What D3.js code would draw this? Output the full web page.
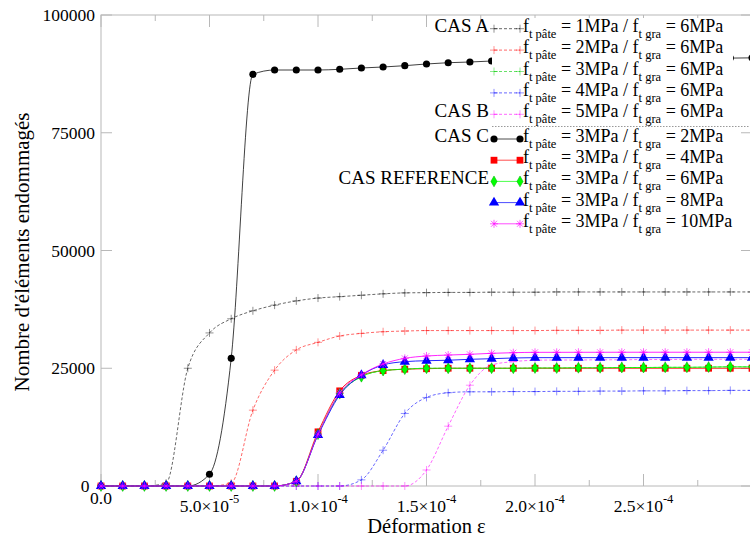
<!DOCTYPE html>
<html><head><meta charset="utf-8">
<script src="https://cdn.jsdelivr.net/npm/d3@7"></script>
<style>
body{margin:0;background:#fff}
svg{display:block}
text{font-family:"Liberation Serif","Times New Roman",serif;fill:#000;white-space:pre}
</style>
</head><body><svg id="c" width="750" height="538"></svg>
<script>
// ---------- data ----------
const strain = [0,0.00001,0.00002,0.00003,0.00004,0.00005,0.00006,0.00007,0.00008,0.00009,
  0.0001,0.00011,0.00012,0.00013,0.00014,0.00015,0.00016,0.00017,0.00018,0.00019,
  0.0002,0.00021,0.00022,0.00023,0.00024,0.00025,0.00026,0.00027,0.00028,0.00029,0.0003];

// CAS A .. CAS B : f_t pâte varies, f_t gra = 6MPa (dashed)
const pate1gra6 = [0,0,0,600,25000,32500,35500,37200,38400,39300,39900,40200,40500,40800,41000,41050,41100,41100,41150,41150,41150,41200,41200,41200,41200,41200,41200,41200,41200,41200,41200];
const pate2gra6 = [0,0,0,0,0,0,600,16100,24600,28900,30500,31850,32400,32750,32900,33000,33000,33000,33000,33000,33000,33050,33050,33050,33100,33100,33100,33100,33100,33100,33100];
const pate4gra6 = [0,0,0,0,0,0,0,0,0,0,0,0,1300,7600,15400,18800,19800,20000,20000,20050,20050,20100,20100,20150,20150,20200,20200,20250,20250,20300,20300];
const pate5gra6 = [0,0,0,0,0,0,0,0,0,0,0,0,0,0,0,3400,12700,21400,25700,26400,26700,26750,26750,26800,26800,26850,26850,26900,26900,26900,26900];
// CAS C .. : f_t pâte = 3MPa, f_t gra varies (solid)
const pate3gra2 = [0,0,0,0,0,2500,27100,87400,88320,88320,88320,88470,88750,88960,89240,89600,89870,90020,90230,90350,90450,90500,90550,90600,90650,90700,90750,90800,90850,90850,90900];
const pate3gra4 = [0,0,0,0,0,0,0,0,0,1000,11500,20200,23500,24500,24800,24900,25000,25000,25000,25000,25000,25000,25000,25000,25000,25000,25000,25000,25000,25000,25000];
const pate3gra6 = [0,0,0,0,0,0,0,0,0,1000,11000,19600,23200,24500,24800,25000,25000,25000,25000,25000,25050,25050,25100,25100,25150,25150,25200,25200,25250,25300,25300];
const pate3gra8 = [0,0,0,0,0,0,0,0,0,1000,10800,19300,23500,25700,26400,26600,26700,26900,27030,27180,27250,27250,27250,27250,27250,27250,27250,27250,27250,27250,27250];
const pate3gra10 = [0,0,0,0,0,0,0,0,0,1000,11000,19800,23600,25900,27100,27600,27800,27960,28170,28300,28380,28380,28390,28390,28400,28400,28400,28400,28400,28400,28400];

const legendPate = ["1MPa","2MPa","3MPa","4MPa","5MPa","3MPa","3MPa","3MPa","3MPa","3MPa"];
const legendGra  = ["6MPa","6MPa","6MPa","6MPa","6MPa","2MPa","4MPa","6MPa","8MPa","10MPa"];
const caseLabels = ["CAS A","","","","CAS B","CAS C","","CAS REFERENCE","",""];

const yTicks = [0,25000,50000,75000,100000];
const yTickLabels = ["0","25000","50000","75000","100000"];
const xMajorTicks = [0,0.00005,0.0001,0.00015,0.0002,0.00025,0.0003];
const xMinorTicks = [0.000025,0.000075,0.000125,0.000175,0.000225,0.000275];
const xTickMant = ["0.0","5.0×10","1.0×10","1.5×10","2.0×10","2.5×10"];
const xTickExp  = ["","-5","-4","-4","-4","-4"];

// ---------- styles ----------
const series = [
  {v:pate1gra6, color:"#000", dash:true, marker:"plus"},
  {v:pate2gra6, color:"#f00", dash:true, marker:"plus"},
  {v:pate3gra6, color:"#0c0", dash:true, marker:"plus"},
  {v:pate4gra6, color:"#00f", dash:true, marker:"plus"},
  {v:pate5gra6, color:"#f0f", dash:true, marker:"plus"},
  {v:pate3gra2, color:"#000", dash:false, marker:"circle"},
  {v:pate3gra4, color:"#f00", dash:false, marker:"square"},
  {v:pate3gra6, color:"#0f0", dash:false, marker:"diamond"},
  {v:pate3gra8, color:"#00f", dash:false, marker:"triangle"},
  {v:pate3gra10, color:"#f0f", dash:false, marker:"star"}
];

const svg = d3.select("#c");
const x = d3.scaleLinear().domain([0,0.0003]).range([101,752]);
const y = d3.scaleLinear().domain([0,100000]).range([486,15]);
const axisColor = "#b8b8b8";

// ---------- axes frame ----------
const ax = svg.append("g").attr("stroke",axisColor).attr("stroke-width",1).attr("fill","none");
ax.append("rect").attr("x",x(0)).attr("y",y(100000)).attr("width",x(0.0003)-x(0)).attr("height",y(0)-y(100000));
xMajorTicks.forEach(t=>{
  ax.append("line").attr("x1",x(t)).attr("x2",x(t)).attr("y1",y(0)).attr("y2",y(0)-12);
  ax.append("line").attr("x1",x(t)).attr("x2",x(t)).attr("y1",y(100000)).attr("y2",y(100000)+12);
});
xMinorTicks.forEach(t=>{
  ax.append("line").attr("x1",x(t)).attr("x2",x(t)).attr("y1",y(0)).attr("y2",y(0)-6);
  ax.append("line").attr("x1",x(t)).attr("x2",x(t)).attr("y1",y(100000)).attr("y2",y(100000)+6);
});
yTicks.forEach(t=>{
  ax.append("line").attr("x1",x(0)).attr("x2",x(0)+11).attr("y1",y(t)).attr("y2",y(t));
  ax.append("line").attr("x1",x(0.0003)).attr("x2",x(0.0003)-11).attr("y1",y(t)).attr("y2",y(t));
});

// ---------- markers ----------
function markerPath(type){
  switch(type){
    case "plus": return "M-4,0H4M0,-4V4";
    case "star": return "M-4,0H4M0,-4V4M-3,-3L3,3M-3,3L3,-3";
    case "circle": return d3.symbol(d3.symbolCircle,40)();
    case "square": return d3.symbol(d3.symbolSquare,46)();
    case "diamond": return d3.symbol(d3.symbolDiamond,34)();
    case "triangle": return d3.symbol(d3.symbolTriangle,46)();
  }
}
function drawMarker(g,type,color,px,py){
  const p = g.append("path").attr("d",markerPath(type)).attr("transform",`translate(${px},${py})`);
  if(type==="plus"||type==="star"){
    p.attr("fill","none").attr("stroke",color).attr("stroke-width",0.8).attr("stroke-opacity",type==="plus"?0.55:0.8);
  } else {
    p.attr("fill",color).attr("stroke",type==="diamond"?"#0a0":"none").attr("stroke-width",0.5);
  }
}

// ---------- curves ----------
const line = d3.line().x((d,i)=>x(strain[i])).y(d=>y(d)).curve(d3.curveMonotoneX);
const plot = svg.append("g");
series.forEach(s=>{
  const g = plot.append("g");
  g.append("path").attr("d",line(s.v)).attr("fill","none")
    .attr("stroke",s.color)
    .attr("stroke-width",s.dash?0.8:1)
    .attr("stroke-opacity",s.dash?0.75:(s.marker==="circle"?0.75:0.85))
    .attr("stroke-dasharray",s.dash?"3,2":null);
  s.v.forEach((d,i)=>drawMarker(g,s.marker,s.color,x(strain[i]),y(d)));
});

// ---------- legend ----------
const lg = svg.append("g");
lg.append("rect").attr("x",492).attr("y",18).attr("width",241).attr("height",108).attr("fill","#fff");
lg.append("line").attr("x1",492).attr("x2",750).attr("y1",126.5).attr("y2",126.5)
  .attr("stroke","#999").attr("stroke-width",1).attr("stroke-dasharray","1.5,1.5");

const baseRows = [31.7,53.1,74.5,95.9,117.3,142,163.2,184.4,205.6,226.8];
series.forEach((s,i)=>{
  const by = baseRows[i];
  const ly = by-3;
  const g = lg.append("g");
  g.append("line").attr("x1",494).attr("x2",520).attr("y1",ly).attr("y2",ly)
    .attr("stroke",s.color).attr("stroke-width",s.dash?0.8:1)
    .attr("stroke-opacity",s.dash?0.75:0.7)
    .attr("stroke-dasharray",s.dash?"3,2":null);
  drawMarker(g,s.marker,s.color,494,ly);
  drawMarker(g,s.marker,s.color,520,ly);
  const t = g.append("text").attr("x",523).attr("y",by).attr("font-size",18);
  t.append("tspan").text("f");
  t.append("tspan").attr("font-size",12.5).attr("dy",6).text("t pâte");
  t.append("tspan").attr("font-size",18).attr("dy",-6).text(" = "+legendPate[i]+" / f");
  t.append("tspan").attr("font-size",12.5).attr("dy",6).text("t gra");
  t.append("tspan").attr("font-size",18).attr("dy",-6).text(" = "+legendGra[i]);
  if(caseLabels[i]) g.append("text").attr("x",489).attr("y",by).attr("text-anchor","end").attr("font-size",19).text(caseLabels[i]);
});

// ---------- tick labels ----------
yTicks.forEach((t,i)=>{
  svg.append("text").attr("x",t===0?89.5:95).attr("y",y(t)+6).attr("text-anchor","end").attr("font-size",17.5).text(yTickLabels[i]);
});
xTickMant.forEach((m,i)=>{
  const t = svg.append("text").attr("x",x(xMajorTicks[i])).attr("text-anchor","middle").attr("font-size",17.5);
  if(xTickExp[i]){
    t.attr("y",512);
    t.append("tspan").text(m);
    t.append("tspan").attr("font-size",12.5).attr("dy",-9).text(xTickExp[i]);
  } else {
    t.attr("y",504).text(m);
  }
});

// ---------- titles ----------
svg.append("text").attr("x",(x(0)+x(0.0003))/2).attr("y",532.5).attr("text-anchor","middle").attr("font-size",20.5).text("Déformation ε");
svg.append("text").attr("transform","translate(29,252) rotate(-90)").attr("text-anchor","middle").attr("font-size",21).text("Nombre d'éléments endommagés");
</script>
</body></html>
